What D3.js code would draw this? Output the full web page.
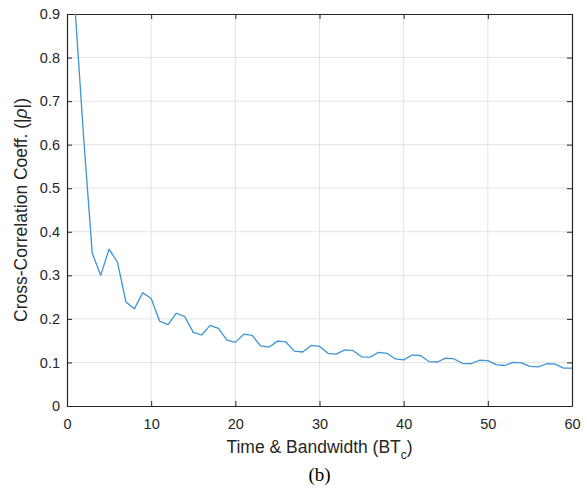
<!DOCTYPE html>
<html>
<head>
<meta charset="utf-8">
<script src="https://cdn.jsdelivr.net/npm/d3@7"></script>
<style>
  body { margin: 0; background: #fff; }
  svg { display: block; }
</style>
</head>
<body>
<div id="chart"></div>
<script>
// x = BTc, y = |rho|
const xs = d3.range(1, 61);
const rho = [
  0.900, 0.610, 0.351, 0.300, 0.360, 0.330, 0.239, 0.223, 0.260, 0.247,
  0.195, 0.187, 0.213, 0.205, 0.169, 0.163, 0.185, 0.178, 0.151, 0.146,
  0.165, 0.162, 0.138, 0.135, 0.149, 0.147, 0.126, 0.124, 0.139, 0.137,
  0.121, 0.119, 0.129, 0.127, 0.113, 0.112, 0.123, 0.121, 0.108, 0.106,
  0.117, 0.116, 0.102, 0.101, 0.110, 0.108, 0.098, 0.097, 0.105, 0.104,
  0.095, 0.093, 0.100, 0.099, 0.091, 0.090, 0.097, 0.096, 0.087, 0.087
];
const xTicks = [0, 10, 20, 30, 40, 50, 60];
const yTicks = [0, 0.1, 0.2, 0.3, 0.4, 0.5, 0.6, 0.7, 0.8, 0.9];

const W = 586, H = 489;
const margin = { top: 14, right: 14, bottom: 83, left: 67 };
const width = W - margin.left - margin.right;   // 505
const height = H - margin.top - margin.bottom;  // 392

const axisColor = '#262626';
const font = '"Liberation Sans", Arial, sans-serif';

const svg = d3.select('#chart').append('svg')
  .attr('width', W)
  .attr('height', H);

const g = svg.append('g')
  .attr('transform', `translate(${margin.left},${margin.top})`);

const x = d3.scaleLinear().domain([0, 60]).range([0, width]);
const y = d3.scaleLinear().domain([0, 0.9]).range([height, 0]);

// grid
g.append('g').selectAll('line.vg')
  .data(xTicks.slice(1, -1))
  .enter().append('line')
  .attr('x1', d => x(d)).attr('x2', d => x(d))
  .attr('y1', 0).attr('y2', height)
  .attr('stroke', '#e3e3e3').attr('stroke-width', 1);
g.append('g').selectAll('line.hg')
  .data(yTicks.slice(1, -1))
  .enter().append('line')
  .attr('x1', 0).attr('x2', width)
  .attr('y1', d => y(d)).attr('y2', d => y(d))
  .attr('stroke', '#e3e3e3').attr('stroke-width', 1);

// axes with inward ticks
const tickLen = 5;
const xAxis = g.append('g')
  .attr('transform', `translate(0,${height})`)
  .call(d3.axisBottom(x).tickValues(xTicks).tickSizeInner(-tickLen).tickSizeOuter(0).tickPadding(13));
const yAxis = g.append('g')
  .call(d3.axisLeft(y).tickValues(yTicks).tickFormat(d => d === 0 ? '0' : d3.format('.1f')(d))
    .tickSizeInner(-tickLen).tickSizeOuter(0).tickPadding(7));
const xAxisTop = g.append('g')
  .call(d3.axisTop(x).tickValues(xTicks).tickSizeInner(-tickLen).tickSizeOuter(0).tickFormat(''));
const yAxisRight = g.append('g')
  .attr('transform', `translate(${width},0)`)
  .call(d3.axisRight(y).tickValues(yTicks).tickSizeInner(-tickLen).tickSizeOuter(0).tickFormat(''));

[xAxis, yAxis, xAxisTop, yAxisRight].forEach(a => {
  a.selectAll('.domain').attr('stroke', axisColor).attr('stroke-width', 1.2);
  a.selectAll('.tick line').attr('stroke', axisColor).attr('stroke-width', 1);
  a.selectAll('.tick text')
    .attr('fill', axisColor)
    .attr('font-family', font)
    .attr('font-size', '14.5px');
});

// data line
const line = d3.line()
  .x((d, i) => x(xs[i]))
  .y(d => y(d));

g.append('path')
  .datum(rho)
  .attr('fill', 'none')
  .attr('stroke', '#3d93d4')
  .attr('stroke-width', 1.3)
  .attr('stroke-linejoin', 'round')
  .attr('d', line);

// x label
const xl = svg.append('text')
  .attr('x', margin.left + width / 2)
  .attr('y', 453)
  .attr('text-anchor', 'middle')
  .attr('fill', axisColor)
  .attr('font-family', font)
  .attr('font-size', '17.5px');
xl.append('tspan').text('Time & Bandwidth (BT');
xl.append('tspan').attr('font-size', '12px').attr('dy', 6).text('c');
xl.append('tspan').attr('dy', -6).text(')');

// y label
const yl = svg.append('text')
  .attr('transform', `translate(27,${margin.top + height / 2}) rotate(-90)`)
  .attr('text-anchor', 'middle')
  .attr('fill', axisColor)
  .attr('font-family', font)
  .attr('font-size', '17.5px');
yl.append('tspan').text('Cross-Correlation Coeff. (|');
yl.append('tspan').attr('font-style', 'italic').text('ρ');
yl.append('tspan').text('|)');

// caption
svg.append('text')
  .attr('x', margin.left + width / 2)
  .attr('y', 481)
  .attr('text-anchor', 'middle')
  .attr('fill', '#000')
  .attr('font-family', '"Liberation Serif", "Times New Roman", serif')
  .attr('font-size', '19px')
  .text('(b)');
</script>
</body>
</html>
